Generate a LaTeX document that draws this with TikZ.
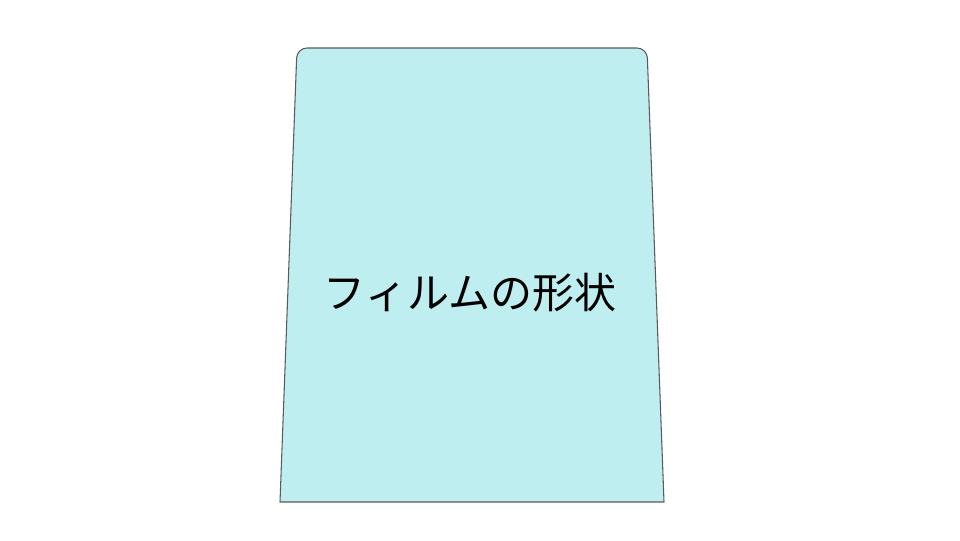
\documentclass[tikz,border=0pt]{standalone}
\usepackage{fontspec}
\newfontfamily\cjk{Noto Sans CJK JP}
\definecolor{filmfill}{HTML}{BEEEF0}
\definecolor{filmline}{HTML}{5A5A5A}
\begin{document}
\begin{tikzpicture}[x=0.75pt,y=-0.75pt,
  filmshape/.style={fill=filmfill,draw=filmline,line width=0.8pt,line join=round},
  filmlabel/.style={font=\cjk\fontsize{31.5}{38}\selectfont,text=black}]
\useasboundingbox (0,0) rectangle (960,540);
\coordinate (bl) at (280,502);
\coordinate (tl) at (297,48);
\coordinate (tr) at (647,48);
\coordinate (br) at (664,502);
\draw[filmshape] (bl) [rounded corners=7.5pt] -- (tl) -- (tr) [sharp corners] -- (br) -- cycle;
\node[filmlabel] (lbl) at (470,293) {フィルムの形状};
\end{tikzpicture}
\end{document}
